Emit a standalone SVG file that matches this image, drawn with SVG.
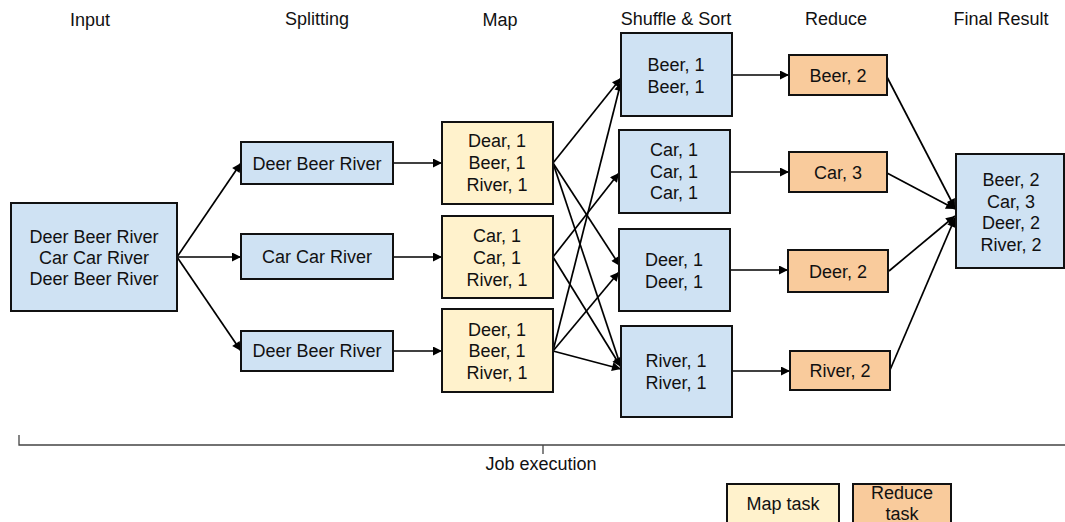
<svg xmlns="http://www.w3.org/2000/svg" width="1065" height="522" viewBox="0 0 1065 522">
  <defs>
    <marker id="arrow" viewBox="0 0 10 10" refX="10" refY="5" markerWidth="11" markerHeight="9" markerUnits="userSpaceOnUse" orient="auto">
      <path d="M0,0 L10,5 L0,10 z" fill="#000"/>
    </marker>
    <style>
      text { font-family: "Liberation Sans", Arial, sans-serif; font-size: 18px; fill: #111; text-anchor: middle; }
      .box { stroke: #111; stroke-width: 2; }
      .blue { fill: #cfe2f3; }
      .yellow { fill: #fff2cc; }
      .orange { fill: #f9cb9c; }
      .conn line { stroke: #000; stroke-width: 1.7; marker-end: url(#arrow); }
    </style>
  </defs>
  <rect width="1065" height="522" fill="#fff"/>

  <!-- column headings -->
  <g id="headings">
    <text x="90" y="26">Input</text>
    <text x="317" y="25">Splitting</text>
    <text x="500" y="26">Map</text>
    <text x="676" y="25">Shuffle &amp; Sort</text>
    <text x="836" y="25">Reduce</text>
    <text x="1001" y="25">Final Result</text>
  </g>

  <!-- connectors -->
  <g id="connectors" class="conn">
    <line x1="177" y1="257" x2="241" y2="163"/>
    <line x1="177" y1="257" x2="241" y2="257"/>
    <line x1="177" y1="257" x2="241" y2="351"/>
    <line x1="393" y1="163" x2="442" y2="163"/>
    <line x1="393" y1="257" x2="442" y2="257"/>
    <line x1="393" y1="351" x2="442" y2="351"/>
    <!-- map 1 -->
    <line x1="553" y1="163" x2="621" y2="78"/>
    <line x1="553" y1="163" x2="620" y2="266"/>
    <line x1="553" y1="163" x2="621" y2="367"/>
    <!-- map 2 -->
    <line x1="553" y1="257" x2="619" y2="173"/>
    <line x1="553" y1="257" x2="621" y2="367"/>
    <!-- map 3 -->
    <line x1="553" y1="351" x2="621" y2="82"/>
    <line x1="553" y1="351" x2="619" y2="272"/>
    <line x1="553" y1="351" x2="621" y2="369"/>
    <!-- shuffle to reduce -->
    <line x1="732" y1="75" x2="789" y2="75"/>
    <line x1="730" y1="172" x2="789" y2="172"/>
    <line x1="730" y1="270" x2="788" y2="270"/>
    <line x1="732" y1="371" x2="790" y2="371"/>
    <!-- reduce to final -->
    <line x1="887" y1="77" x2="955" y2="208"/>
    <line x1="887" y1="173" x2="955" y2="209"/>
    <line x1="889" y1="271" x2="955" y2="216"/>
    <line x1="890" y1="370" x2="955" y2="218"/>
  </g>

  <g id="input">
    <rect class="box blue" x="11" y="203" width="166" height="108"/>
    <text x="94" y="243">Deer Beer River</text>
    <text x="94" y="264">Car Car River</text>
    <text x="94" y="285">Deer Beer River</text>
  </g>

  <g id="split-1">
    <rect class="box blue" x="241" y="142" width="152" height="42"/>
    <text x="317" y="170">Deer Beer River</text>
  </g>
  <g id="split-2">
    <rect class="box blue" x="241" y="234" width="152" height="45"/>
    <text x="317" y="263">Car Car River</text>
  </g>
  <g id="split-3">
    <rect class="box blue" x="241" y="331" width="152" height="40"/>
    <text x="317" y="357">Deer Beer River</text>
  </g>

  <g id="map-1">
    <rect class="box yellow" x="442" y="122" width="111" height="82"/>
    <text x="497" y="147">Dear, 1</text>
    <text x="497" y="169">Beer, 1</text>
    <text x="497" y="191">River, 1</text>
  </g>
  <g id="map-2">
    <rect class="box yellow" x="442" y="216" width="111" height="82"/>
    <text x="497" y="242">Car, 1</text>
    <text x="497" y="264">Car, 1</text>
    <text x="497" y="286">River, 1</text>
  </g>
  <g id="map-3">
    <rect class="box yellow" x="442" y="309" width="111" height="83"/>
    <text x="497" y="336">Deer, 1</text>
    <text x="497" y="357">Beer, 1</text>
    <text x="497" y="379">River, 1</text>
  </g>

  <g id="shuffle-beer">
    <rect class="box blue" x="621" y="33" width="111" height="83"/>
    <text x="676" y="71">Beer, 1</text>
    <text x="676" y="93">Beer, 1</text>
  </g>
  <g id="shuffle-car">
    <rect class="box blue" x="619" y="130" width="111" height="83"/>
    <text x="674" y="156">Car, 1</text>
    <text x="674" y="178">Car, 1</text>
    <text x="674" y="199">Car, 1</text>
  </g>
  <g id="shuffle-deer">
    <rect class="box blue" x="619" y="229" width="111" height="82"/>
    <text x="674" y="266">Deer, 1</text>
    <text x="674" y="288">Deer, 1</text>
  </g>
  <g id="shuffle-river">
    <rect class="box blue" x="621" y="326" width="111" height="91"/>
    <text x="676" y="367">River, 1</text>
    <text x="676" y="389">River, 1</text>
  </g>

  <g id="reduce-beer">
    <rect class="box orange" x="789" y="55" width="98" height="40"/>
    <text x="838" y="82">Beer, 2</text>
  </g>
  <g id="reduce-car">
    <rect class="box orange" x="789" y="152" width="98" height="40"/>
    <text x="838" y="179">Car, 3</text>
  </g>
  <g id="reduce-deer">
    <rect class="box orange" x="788" y="250" width="100" height="42"/>
    <text x="838" y="278">Deer, 2</text>
  </g>
  <g id="reduce-river">
    <rect class="box orange" x="790" y="351" width="100" height="39"/>
    <text x="840" y="377">River, 2</text>
  </g>

  <g id="final-result">
    <rect class="box blue" x="956" y="154" width="108" height="114"/>
    <text x="1011" y="186">Beer, 2</text>
    <text x="1011" y="208">Car, 3</text>
    <text x="1011" y="229">Deer, 2</text>
    <text x="1011" y="251">River, 2</text>
  </g>

  <!-- job execution bracket -->
  <g id="job-execution">
    <path d="M19,435 L19,445 L1065,445 M543,445 L543,454" fill="none" stroke="#444" stroke-width="1.3"/>
    <text x="541" y="470">Job execution</text>
  </g>

  <!-- legend -->
  <g id="legend-map">
    <rect class="box yellow" x="727" y="484" width="112" height="50"/>
    <text x="783" y="510">Map task</text>
  </g>
  <g id="legend-reduce">
    <rect class="box orange" x="853" y="484" width="98" height="50"/>
    <text x="902" y="499">Reduce</text>
    <text x="902" y="520">task</text>
  </g>
</svg>
